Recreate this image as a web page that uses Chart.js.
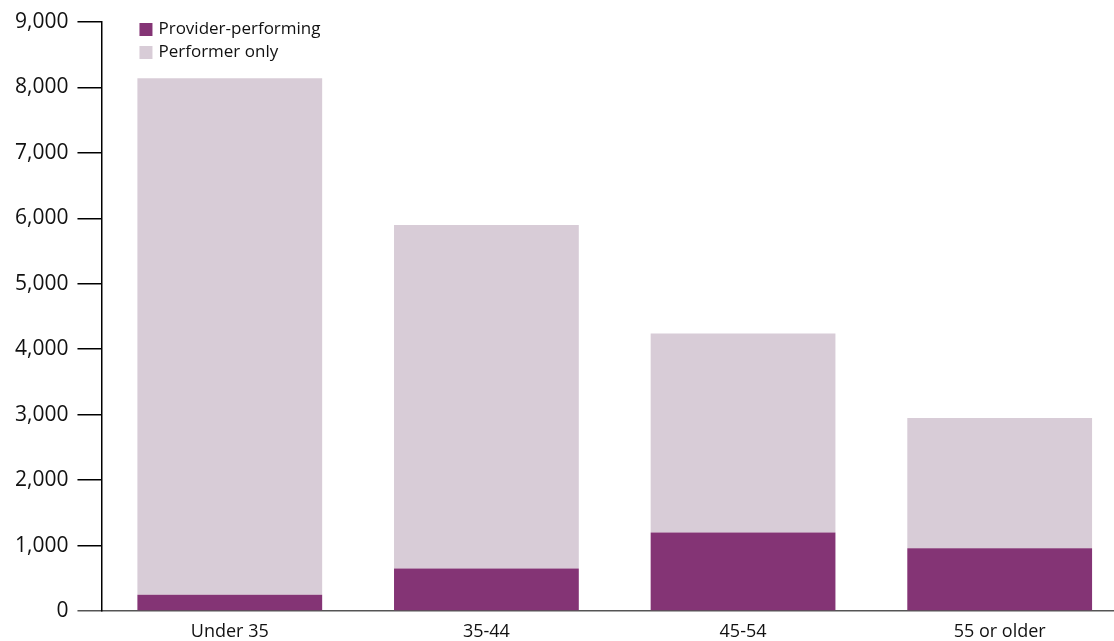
<!DOCTYPE html>
<html>
<head>
<meta charset="utf-8">
<script src="https://cdn.jsdelivr.net/npm/chart.js@4/dist/chart.umd.min.js"></script>
<style>
  html, body { margin: 0; padding: 0; background: #fff; overflow: hidden; }
  #wrap { position: relative; width: 1128px; height: 641px; }
</style>
</head>
<body>
<div id="wrap"><canvas id="chart"></canvas></div>
<script>
// Age groups on the x axis
const ageGroups = ['Under 35', '35-44', '45-54', '55 or older'];

// Stacked series (bottom to top)
const providerPerforming = [250, 650, 1200, 960];
const performerOnly = [7890, 5250, 3040, 1990];

const seriesLabels = ['Provider-performing', 'Performer only'];
const seriesColors = ['#843475', '#d8ccd7'];

const yTicks = [0, 1000, 2000, 3000, 4000, 5000, 6000, 7000, 8000, 9000];

const FONT = '"Open Sans", "DejaVu Sans", sans-serif';

// Simple legend drawn inside the plot area, top-left
const insideLegend = {
  id: 'insideLegend',
  afterDraw(chart) {
    const { ctx, chartArea } = chart;
    const x0 = chartArea.left + 38;
    let y = chartArea.top + 7;
    ctx.save();
    ctx.font = '17px ' + FONT;
    ctx.textBaseline = 'middle';
    chart.data.datasets.forEach(ds => {
      ctx.fillStyle = ds.backgroundColor;
      ctx.fillRect(x0, y - 6, 13, 13);
      ctx.fillStyle = '#111';
      ctx.fillText(ds.label, x0 + 19, y);
      y += 23;
    });
    ctx.restore();
  }
};

new Chart(document.getElementById('chart'), {
  type: 'bar',
  data: {
    labels: ageGroups,
    datasets: [
      { label: seriesLabels[0], data: providerPerforming, backgroundColor: seriesColors[0] },
      { label: seriesLabels[1], data: performerOnly, backgroundColor: seriesColors[1] }
    ]
  },
  options: {
    responsive: true,
    maintainAspectRatio: false,
    animation: false,
    layout: { padding: { top: 22, left: 6, right: 0, bottom: -12 } },
    datasets: { bar: { barPercentage: 0.72, categoryPercentage: 1 } },
    plugins: {
      legend: { display: false },
      tooltip: { enabled: false }
    },
    scales: {
      x: {
        stacked: true,
        grid: { display: false, drawTicks: false },
        border: { display: true, color: '#555', width: 1.5 },
        ticks: { color: '#111', font: { family: FONT, size: 18, lineHeight: 1 }, padding: 12 }
      },
      y: {
        stacked: true,
        min: 0,
        max: 9000,
        afterBuildTicks: axis => { axis.ticks = yTicks.map(v => ({ value: v })); },
        grid: {
          drawOnChartArea: false,
          drawTicks: true,
          tickLength: 24,
          color: ctx => (ctx.tick && ctx.tick.value === 0 ? '#555' : '#000'),
          lineWidth: 1.5
        },
        border: { display: true, color: '#000', width: 1.5 },
        ticks: {
          color: '#111',
          padding: 9,
          font: { family: FONT, size: 21 },
          callback: v => v.toLocaleString('en-US')
        }
      }
    }
  },
  plugins: [insideLegend]
});
</script>
</body>
</html>
